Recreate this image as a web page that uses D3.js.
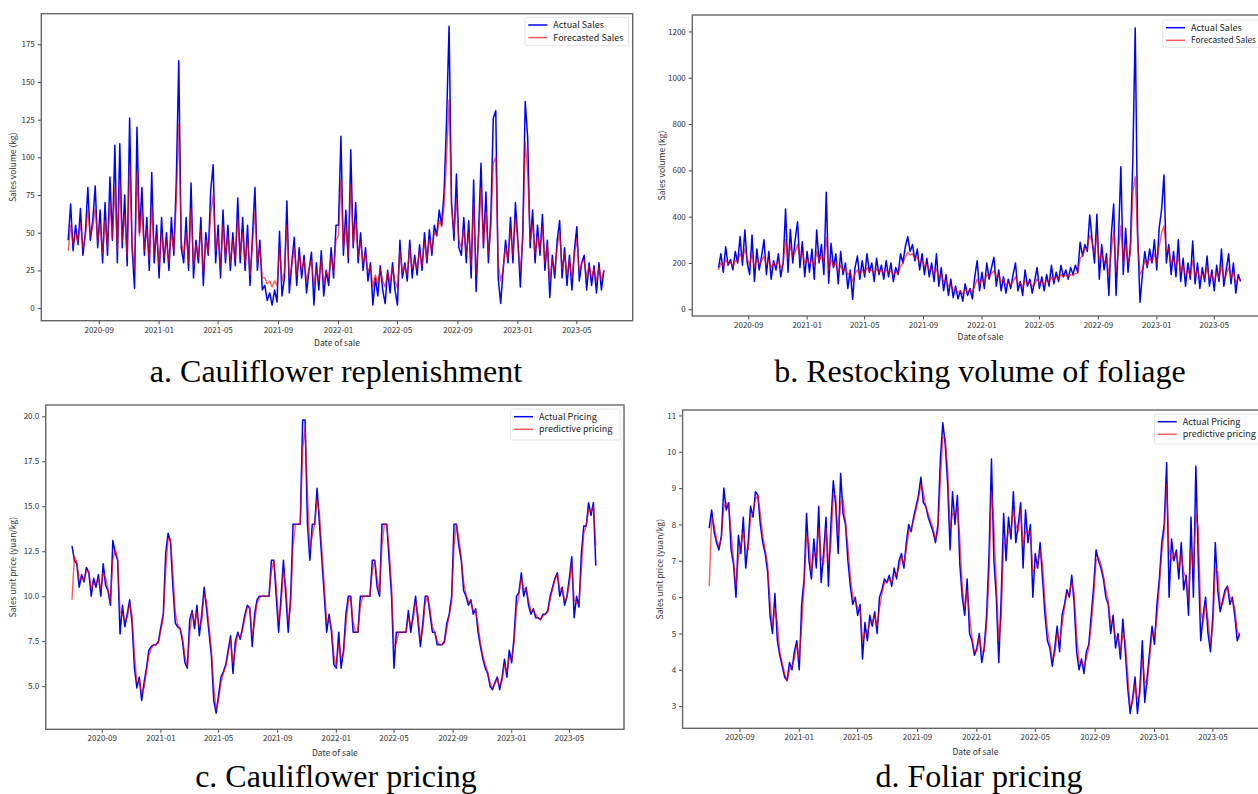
<!DOCTYPE html>
<html><head><meta charset="utf-8">
<script src="https://cdn.jsdelivr.net/npm/d3@7"></script>
<style>
body{margin:0;background:#fff;}
svg{display:block;}
.tick text{font-family:"Noto Sans CJK SC",sans-serif;font-size:8px;fill:#333;}
.lab{font-family:"Noto Sans CJK SC",sans-serif;font-size:8.5px;fill:#333;}
.leg{font-family:"Noto Sans CJK SC",sans-serif;font-size:9px;fill:#222;}
.cap{font-family:"Liberation Serif","Times New Roman",serif;font-size:32px;fill:#000;}
</style></head><body>
<svg id="chart" width="1258" height="794"></svg>
<script>
// sampling of all series: every 5 days from 2020-07-01
const sampleStart = "2020-07-01";
const sampleStepDays = 5;
const dataFirstDay = "2020-07-01";
const dataLastDay = "2023-06-30";
const xTickLabels = ["2020-09","2021-01","2021-05","2021-09","2022-01","2022-05","2022-09","2023-01","2023-05"];
const yTicksCauliflowerSales = [0,25,50,75,100,125,150,175];
const yTicksFoliageSales = [0,200,400,600,800,1000,1200];
const yTicksCauliflowerPrice = [5.0,7.5,10.0,12.5,15.0,17.5,20.0];
const yTicksFoliagePrice = [3,4,5,6,7,8,9,10,11];

const cauliflowerSalesActual = [45,69,38,55,42,66,35,50,80,45,
58,81,40,65,30,70,35,87,45,108,
30,109,40,75,28,126,40,13,120,50,
80,35,60,25,90,30,55,20,60,30,
50,25,60,35,85,164,40,30,60,25,
83,20,45,30,60,15,50,35,78,95,
30,55,20,65,30,55,25,50,28,73,
30,60,25,55,15,48,80,25,45,12,
15,5,10,2,12,4,51,8,20,71,
10,30,47,15,40,20,35,10,25,37,
2,30,12,38,8,25,15,40,20,55,
55,114,35,65,30,105,40,70,30,50,
25,40,18,30,2,20,8,28,12,3,
25,10,30,12,2,45,20,30,18,45,
20,35,22,42,25,50,30,52,35,55,
48,65,55,78,125,187,70,45,89,40,
35,60,30,58,20,85,11,50,96,40,
77,30,60,126,131,20,3,25,45,30,
60,30,70,45,14,50,137,113,40,65,
30,55,35,62,25,45,7,35,20,45,
58,20,40,15,35,12,38,54,18,30,
35,12,30,15,28,10,30,12,25];
const cauliflowerSalesForecast = [38,55,42,50,44,56,40,48,65,48,
54,66,44,56,36,58,40,70,46,80,
38,85,44,62,34,95,42,25,90,48,
65,38,52,32,68,36,48,28,50,34,
45,30,50,38,70,122,45,35,50,30,
66,28,42,34,52,24,45,36,62,75,
38,48,28,55,34,48,30,45,32,60,
35,50,30,46,22,42,64,30,40,20,
20,16,18,14,18,15,40,18,24,55,
20,28,40,22,35,25,32,18,26,32,
15,26,18,32,16,24,20,34,24,45,
48,85,40,55,34,82,42,58,34,44,
30,36,24,28,14,22,16,26,18,14,
24,17,27,18,13,38,24,28,22,40,
26,32,26,38,28,44,32,46,38,50,
48,58,54,68,100,138,68,50,72,45,
40,52,36,50,28,70,22,45,80,42,
64,36,52,96,100,30,18,26,40,32,
52,35,60,44,24,45,110,90,44,56,
36,48,38,54,30,42,18,32,25,40,
50,26,36,22,32,20,35,46,24,30,
32,20,28,20,26,18,27,18,25];

const foliageSalesActual = [180,240,160,270,190,215,170,250,200,314,
190,342,200,150,321,120,260,170,230,300,
150,250,130,210,170,240,140,200,433,160,
345,200,300,378,180,292,140,250,160,260,
130,342,200,280,150,505,112,285,180,240,
110,250,150,200,90,170,43,180,230,130,
210,140,240,160,200,120,220,150,190,130,
210,140,200,120,180,150,240,200,270,314,
250,280,210,260,170,240,150,220,140,200,
120,240,100,180,80,150,60,130,50,100,
45,80,35,110,60,90,45,140,210,80,
160,90,200,130,180,225,100,170,80,140,
70,130,90,150,200,80,120,60,170,100,
130,70,120,180,90,140,80,150,100,190,
110,160,120,190,140,170,130,180,150,190,
160,290,230,280,250,407,300,200,410,130,
280,170,240,60,320,455,60,300,616,150,
350,160,280,645,1215,330,30,150,250,180,
260,200,300,170,350,430,580,200,280,150,
250,140,300,120,220,100,200,130,295,110,
200,90,180,120,230,100,170,80,190,120,
260,100,170,240,110,200,70,150,120];
const foliageSalesForecast = [170,200,185,215,195,205,185,210,205,240,
215,260,220,190,240,180,215,195,210,230,
190,215,180,200,190,210,180,195,300,220,
270,230,245,280,220,245,200,215,195,215,
185,250,210,230,200,310,170,215,185,200,
160,190,165,175,150,160,120,155,170,150,
170,155,180,165,170,155,175,160,170,155,
170,160,165,150,160,155,185,200,225,245,
235,240,220,225,200,210,185,195,170,175,
150,175,140,150,120,125,100,105,85,85,
75,80,65,85,75,85,75,100,130,105,
130,115,150,140,155,165,140,150,120,125,
105,115,105,120,140,110,115,95,125,110,
115,100,110,130,110,120,105,125,115,140,
125,140,130,150,140,150,140,150,145,155,
155,220,230,260,260,320,290,240,320,210,
240,200,220,150,250,340,160,250,360,200,
280,200,240,500,573,300,150,170,210,190,
220,205,240,200,270,330,360,250,260,200,
220,180,230,160,190,145,170,145,210,140,
170,130,155,135,180,130,150,120,160,135,
190,130,150,180,135,160,115,135,125];

const cauliflowerPriceActual = [12.8,12.0,11.8,10.5,11.2,10.8,11.6,11.3,10.0,11.0,
10.5,11.2,10.0,11.8,10.6,10.3,9.5,13.1,12.4,12.0,
7.9,9.5,8.3,9.0,9.8,8.5,6.0,4.9,5.5,4.2,
5.2,6.0,7.0,7.2,7.3,7.3,7.5,8.3,9.0,12.4,
13.5,13.0,10.5,8.5,8.3,8.2,7.5,6.3,6.0,8.7,
9.2,8.2,9.5,7.8,9.0,10.5,9.3,8.0,6.7,4.2,
3.5,4.5,5.5,5.8,6.2,7.0,7.8,5.7,7.5,8.0,
7.6,8.3,9.0,9.5,9.3,7.2,9.0,9.8,10.0,10.0,
10.0,10.0,10.0,12.0,12.0,10.0,8.0,10.0,12.0,10.0,
8.0,10.0,14.0,14.0,14.0,14.0,19.8,19.8,14.0,12.0,
14.0,14.0,16.0,14.0,12.0,10.0,8.0,9.0,8.0,6.2,
6.0,8.0,6.0,7.0,9.0,10.0,10.0,8.0,8.0,8.0,
10.0,10.0,10.0,10.0,10.0,12.0,12.0,10.5,10.0,14.0,
14.0,14.0,12.0,10.0,6.0,8.0,8.0,8.0,8.0,8.0,
9.2,8.0,9.0,10.0,8.6,7.2,8.5,10.0,10.0,9.0,
8.0,8.0,7.3,7.3,7.3,7.5,8.5,9.0,10.0,14.0,
14.0,12.8,12.0,10.3,10.0,9.5,9.8,9.0,9.3,8.0,
7.2,6.5,6.0,5.7,5.0,4.8,5.2,5.5,4.8,5.5,
6.5,5.5,7.0,6.3,7.8,10.0,10.2,11.3,10.0,10.5,
9.5,9.0,9.3,8.8,8.8,8.7,9.0,9.0,9.2,10.0,
10.5,11.0,11.3,10.0,10.5,9.5,10.0,11.0,12.2,8.8,
10.0,9.4,12.4,13.9,13.9,15.2,14.5,15.2,11.7];
const cauliflowerPriceForecast = [9.8,12.2,11.9,10.9,11.0,10.9,11.4,11.4,10.4,10.7,
10.7,11.0,10.4,11.3,11.0,10.4,9.7,12.0,12.6,12.1,
9.1,9.0,8.7,8.8,9.6,8.9,6.8,5.2,5.3,4.6,
4.9,5.8,6.7,7.1,7.3,7.3,7.4,8.1,8.8,11.4,
13.2,13.2,11.3,9.1,8.4,8.2,7.7,6.7,6.1,7.9,
9.1,8.5,9.1,8.3,8.6,10.1,9.7,8.4,7.1,5.0,
3.7,4.2,5.2,5.7,6.1,6.8,7.6,6.3,7.0,7.9,
7.7,8.1,8.8,9.4,9.4,7.8,8.5,9.6,9.9,10.0,
10.0,10.0,10.0,11.4,12.0,10.6,8.6,9.4,11.4,10.6,
8.6,9.4,12.8,14.0,14.0,14.0,18.1,19.4,15.7,12.6,
13.4,14.0,15.4,14.6,12.6,10.6,8.6,8.7,8.3,6.7,
6.1,7.4,6.6,6.7,8.4,9.7,10.0,8.6,8.0,8.0,
9.4,10.0,10.0,10.0,10.0,11.4,12.0,11.0,10.2,12.8,
14.0,14.0,12.6,10.6,7.2,7.4,8.0,8.0,8.0,8.0,
8.8,8.4,8.7,9.7,9.0,7.6,8.1,9.6,10.0,9.3,
8.3,8.0,7.5,7.3,7.3,7.4,8.2,8.9,9.7,12.8,
14.0,13.2,12.2,10.8,10.1,9.7,9.7,9.2,9.2,8.4,
7.4,6.7,6.2,5.8,5.2,4.9,5.1,5.4,5.0,5.3,
6.2,5.8,6.6,6.5,7.4,9.3,10.1,11.0,10.4,10.4,
9.8,9.2,9.2,9.0,8.8,8.7,8.9,9.0,9.1,9.8,
10.4,10.9,11.2,10.4,10.4,9.8,9.9,10.7,11.8,9.8,
9.6,9.6,11.5,13.5,13.9,14.8,14.7,15.0,12.8];

const foliagePriceActual = [7.9,8.4,7.8,7.5,7.3,7.7,9.0,8.4,8.6,7.3,
6.9,6.0,7.7,7.2,8.2,6.8,7.5,8.5,8.2,8.9,
8.8,8.0,7.5,7.2,6.7,5.5,5.0,6.1,4.8,4.4,
4.1,3.8,3.7,4.2,4.0,4.5,4.8,4.0,5.8,6.5,
8.3,7.0,6.5,7.6,6.8,8.5,6.4,7.2,8.2,6.3,
8.0,9.2,8.5,7.2,9.4,8.3,8.0,7.0,6.3,5.8,
6.0,5.5,5.8,4.3,5.3,4.8,5.5,5.2,5.6,5.0,
6.0,6.2,6.5,6.4,6.6,6.3,6.8,6.5,7.0,7.2,
6.8,7.5,8.0,7.8,8.2,8.5,8.8,9.3,8.6,8.5,
8.2,8.0,7.8,7.5,8.0,9.8,10.8,10.2,9.1,7.3,
8.9,8.0,8.8,6.9,6.0,5.5,6.5,5.0,4.8,4.4,
4.6,5.0,4.2,4.6,5.5,7.2,9.8,7.0,6.0,4.2,
6.0,8.3,7.0,8.2,7.6,8.9,7.5,8.0,8.6,6.8,
8.4,7.5,8.0,6.0,7.2,6.8,7.5,6.5,5.5,4.8,
4.6,4.1,4.6,5.2,4.5,5.5,5.8,6.2,6.0,6.6,
5.8,4.5,4.0,4.3,3.9,4.5,4.7,5.5,6.3,7.3,
7.0,6.8,6.5,6.0,5.8,5.0,5.5,4.6,5.0,4.3,
5.4,4.5,3.5,2.8,3.2,3.8,2.8,3.5,4.8,3.1,
3.8,4.5,5.2,4.7,5.8,6.5,7.5,8.0,9.7,6.0,
7.6,7.0,7.3,6.5,7.5,6.2,6.6,5.5,8.2,6.0,
9.6,7.0,4.8,5.5,6.0,5.0,4.5,5.5,7.5,6.2,
5.6,5.9,6.2,6.3,5.8,6.0,5.5,4.8,5.0];
const foliagePriceForecast = [6.3,8.2,8.0,7.6,7.4,7.6,8.5,8.6,8.5,7.8,
7.0,6.3,7.1,7.4,7.8,7.3,7.3,8.2,8.3,8.7,
8.8,8.3,7.7,7.3,6.9,5.9,5.2,5.7,5.3,4.5,
4.2,3.9,3.7,4.0,4.1,4.3,4.7,4.3,5.2,6.3,
7.7,7.5,6.7,7.2,7.1,7.9,7.1,6.9,7.9,7.0,
7.4,8.8,8.8,7.7,8.6,8.7,8.1,7.4,6.6,6.0,
5.9,5.7,5.7,4.8,5.0,5.0,5.3,5.3,5.5,5.2,
5.7,6.1,6.4,6.4,6.5,6.4,6.6,6.6,6.8,7.1,
6.9,7.3,7.8,7.9,8.1,8.4,8.7,9.1,8.9,8.5,
8.3,8.1,7.9,7.6,7.8,9.2,10.4,10.4,9.5,7.9,
8.3,8.3,8.5,7.6,6.3,5.7,6.2,5.5,4.9,4.5,
4.5,4.9,4.5,4.5,5.2,6.6,8.9,8.0,6.4,4.8,
5.4,7.5,7.5,7.8,7.8,8.4,8.0,7.8,8.4,7.4,
7.8,7.8,7.8,6.7,6.8,6.9,7.3,6.9,5.9,5.1,
4.7,4.3,4.4,5.0,4.8,5.2,5.7,6.1,6.1,6.4,
6.1,5.0,4.2,4.2,4.1,4.3,4.6,5.2,6.0,7.0,
7.1,6.9,6.6,6.2,5.9,5.3,5.3,4.9,4.9,4.5,
5.0,4.8,3.9,3.0,3.1,3.6,3.2,3.3,4.3,3.7,
3.6,4.3,5.0,4.9,5.4,6.3,7.2,7.8,9.1,7.3,
7.0,7.2,7.2,6.8,7.2,6.7,6.5,5.9,7.3,6.8,
8.3,7.9,5.6,5.3,5.8,5.4,4.7,5.2,6.8,6.7,
5.8,5.8,6.1,6.3,6.0,5.9,5.7,5.1,4.9];

// ---------------- drawing ----------------
const svg = d3.select("#chart");
const W = 1258;
const parse = d3.timeParse("%Y-%m-%d");
const t0 = parse(sampleStart);
const pad = 0.05 * d3.timeDay.count(parse(dataFirstDay), parse(dataLastDay));
const xDomain = [d3.timeHour.offset(parse(dataFirstDay), -pad*24), d3.timeHour.offset(parse(dataLastDay), pad*24)];
const tickDates = xTickLabels.map(s => d3.timeParse("%Y-%m")(s));
const dateOf = i => d3.timeDay.offset(t0, i * sampleStepDays);

const panels = [
  {a: cauliflowerSalesActual, f: cauliflowerSalesForecast, box:{l:41.3,t:13.7,r:632.7,b:320.7},
   yd:[-8.4,195.3], yt:yTicksCauliflowerSales, fmt:d3.format("d"), ylabel:"Sales volume (kg)", ylx:13.5, xly:343,
   cap:"a. Cauliflower replenishment", capx:336, capy:382, leg:["Actual Sales","Forecasted Sales"],
   lb:{x:525,y:17.3,w:103.5,h:28.4}},
  {a: foliageSalesActual, f: foliageSalesForecast, box:{l:692.3,t:15,r:1268.7,b:316},
   yd:[-29,1271], yt:yTicksFoliageSales, fmt:d3.format("d"), ylabel:"Sales volume (kg)", ylx:661.7, xly:337,
   cap:"b. Restocking volume of foliage", capx:980, capy:382, leg:["Actual Sales","Forecasted Sales"],
   lb:{x:1162.7,y:20,w:120,h:27.3}},
  {a: cauliflowerPriceActual, f: cauliflowerPriceForecast, box:{l:45.7,t:405,r:624,b:729.3},
   yd:[2.6,20.63], yt:yTicksCauliflowerPrice, fmt:d3.format(".1f"), ylabel:"Sales unit price (yuan/kg)", ylx:13.5, xly:753,
   cap:"c. Cauliflower pricing", capx:336, capy:787, leg:["Actual Pricing","predictive pricing"],
   lb:{x:510.7,y:409,w:109.5,h:31}},
  {a: foliagePriceActual, f: foliagePriceForecast, box:{l:682.6,t:410,r:1268.2,b:728.3},
   yd:[2.39,11.15], yt:yTicksFoliagePrice, fmt:d3.format("d"), ylabel:"Sales unit price (yuan/kg)", ylx:660.5, xly:752,
   cap:"d. Foliar pricing", capx:979, capy:787, leg:["Actual Pricing","predictive pricing"],
   lb:{x:1154.4,y:414,w:130,h:30}}
];

panels.forEach(p => {
  const b = p.box;
  const x = d3.scaleTime().domain(xDomain).range([b.l, b.r]);
  const y = d3.scaleLinear().domain(p.yd).range([b.b, b.t]);
  const g = svg.append("g");

  const line = d3.line().x((d,i) => x(dateOf(i))).y(d => y(d));
  g.append("path").datum(p.a).attr("d", line).attr("fill","none")
    .attr("stroke","#0000ff").attr("stroke-width",1.5).attr("stroke-linejoin","round");
  g.append("path").datum(p.f).attr("d", line).attr("fill","none")
    .attr("stroke","#ff0000").attr("stroke-opacity",0.65).attr("stroke-width",1.4).attr("stroke-linejoin","round");

  const xa = g.append("g").attr("transform",`translate(0,${b.b})`)
    .call(d3.axisBottom(x).tickValues(tickDates).tickFormat(d3.timeFormat("%Y-%m")).tickSize(3.5).tickPadding(3));
  xa.select(".domain").remove();
  xa.selectAll(".tick line").attr("stroke","#444");
  const ya = g.append("g").attr("transform",`translate(${b.l},0)`)
    .call(d3.axisLeft(y).tickValues(p.yt).tickFormat(p.fmt).tickSize(3.5).tickPadding(3));
  ya.select(".domain").remove();
  ya.selectAll(".tick line").attr("stroke","#444");

  g.append("rect").attr("x",b.l).attr("y",b.t).attr("width",b.r-b.l).attr("height",b.b-b.t)
    .attr("fill","none").attr("stroke","#666").attr("stroke-width",1.4);

  g.append("text").attr("class","lab").attr("text-anchor","middle")
    .attr("transform",`translate(${p.ylx},${(b.t+b.b)/2}) rotate(-90)`).attr("dy","0.35em").text(p.ylabel);
  g.append("text").attr("class","lab").attr("text-anchor","middle")
    .attr("x",(b.l+b.r)/2).attr("y",p.xly).attr("dy","0.35em").text("Date of sale");

  const L = p.lb;
  g.append("rect").attr("x",L.x).attr("y",L.y).attr("width",L.w).attr("height",L.h).attr("rx",2)
    .attr("fill","#fff").attr("fill-opacity",0.85).attr("stroke","#ddd").attr("stroke-width",0.8);
  [["#0000ff",1],["#ff0000",0.65]].forEach((c,k) => {
    const yy = L.y + 7.7 + k*12.6;
    g.append("line").attr("x1",L.x+3.3).attr("x2",L.x+22.3).attr("y1",yy).attr("y2",yy)
      .attr("stroke",c[0]).attr("stroke-opacity",c[1]).attr("stroke-width",1.5);
    const t = g.append("text").attr("class","leg").attr("x",L.x+28.3).attr("y",yy).attr("dy","0.35em").text(p.leg[k]);
    // keep legend text inside the picture when the legend box runs past the edge
    const len = t.node().getComputedTextLength();
    const room = W - 2 - (L.x + 28.3);
    if (len > room) t.style("font-size", (9 * room / len).toFixed(2) + "px");
  });

  svg.append("text").attr("class","cap").attr("text-anchor","middle")
    .attr("x",p.capx).attr("y",p.capy).text(p.cap);
});
</script>
</body></html>
